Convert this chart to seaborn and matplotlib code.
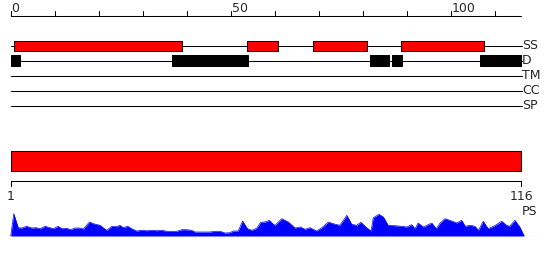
import matplotlib
matplotlib.use("Agg")
import matplotlib.pyplot as plt
import seaborn as sns
import pandas as pd

# ---------------- data ----------------
seq_len = 116
track_names = ["SS", "D", "TM", "CC", "SP"]
ss_starts = [0.8, 53.8, 68.8, 88.8]
ss_ends = [38.9, 60.8, 80.9, 107.6]
d_starts = [0.0, 36.7, 81.7, 86.6, 106.7]
d_ends = [2.0, 53.9, 86.0, 88.9, 116.0]
top_ticks = [0, 10, 20, 30, 40, 50, 60, 70, 80, 90, 100, 110]
top_tick_labels = [0, 50, 100]
bottom_tick_labels = ["1", "116"]
profile_label = "PS"
profile_pos = [0, 0.7, 1.7, 2.5, 3.6, 4.8, 5.8, 6.7, 7.8, 8.9, 9.7, 10.8, 11.6,
               12.7, 13.6, 14.6, 15.7, 16.5, 17.9, 18.8, 20.3, 21.8, 23.0, 24.1,
               24.8, 25.6, 26.6, 27.5, 28.6, 29.8, 30.9, 32.0, 33.2, 34.3, 35.5,
               36.6, 37.7, 38.9, 40.0, 41.1, 41.9, 43.0, 44.2, 45.3, 46.4, 47.6,
               48.7, 49.8, 50.6, 51.7, 52.7, 53.8, 54.8, 55.9, 56.8, 57.8, 58.8,
               59.7, 60.1, 61.6, 63.1, 64.6, 65.8, 66.9, 68.0, 69.5, 70.7, 72.2,
               73.3, 74.8, 76.4, 77.5, 78.6, 79.6, 80.9, 81.9, 82.4, 83.7, 84.7,
               85.8, 87.3, 88.9, 90.0, 91.1, 91.9, 92.6, 93.8, 95.7, 96.7, 97.6,
               98.7, 99.8, 101.4, 102.5, 103.3, 104.4, 105.5, 106.3, 107.4, 108.5,
               110.0, 111.6, 112.7, 113.4, 114.6, 115.7, 116.7]
profile_val = [0, 22.3, 8.3, 8.0, 9.7, 8.0, 8.3, 7.3, 9.7, 8.3, 7.3, 9.7, 7.3,
               7.7, 6.3, 8.0, 8.0, 7.0, 14.0, 12.3, 10.7, 5.7, 9.7, 9.3,
               10.7, 8.3, 9.7, 7.3, 5.0, 5.7, 5.3, 5.7, 5.3, 5.7, 4.7,
               4.7, 4.7, 6.3, 6.3, 5.7, 4.0, 4.0, 4.0, 4.0, 4.7, 4.7,
               3.0, 3.3, 5.0, 5.0, 15.0, 7.3, 5.7, 7.7, 13.7, 14.0, 15.7,
               11.7, 10.7, 17.3, 14.0, 8.0, 9.0, 6.7, 8.3, 5.0, 8.3, 14.0,
               12.3, 10.7, 20.7, 11.7, 10.7, 13.7, 8.3, 5.0, 18.3, 21.7, 19.0,
               10.7, 10.3, 9.7, 9.0, 11.3, 7.3, 13.0, 9.0, 13.0, 7.3, 13.0,
               17.3, 15.7, 13.0, 15.7, 9.7, 10.7, 9.7, 5.7, 14.7, 7.3,
               10.3, 14.7, 10.7, 9.7, 15.7, 9.0, 0]

# ---------------- layout ----------------
W, H = 550, 260
PX = 4.4          # pixels per residue
X0 = 10.7         # pixel of residue 0
xlim = (-X0 / PX, (W - X0) / PX)
sns.set_style("white")
plt.rcParams["font.family"] = ["DejaVu Sans"]
FS = 9
LW = 0.75

fig = plt.figure(figsize=(W / 100, H / 100), dpi=100)
ax = fig.add_axes([0, 0, 1, 1])
ax.set_xlim(*xlim)
ax.set_ylim(H, 0)
ax.axis("off")

# top ruler
ax.plot([0, seq_len], [15.5, 15.5], color="black", lw=LW)
for t in top_ticks:
    ax.plot([t, t], [10.5, 15.5], color="black", lw=LW)
for t in top_tick_labels:
    ax.text(t + 0.2, 12.5, str(t), ha="left", va="baseline", fontsize=FS)

# tracks
track_y = [45.5, 60.5, 75.5, 90.5, 105.5]
for name, y in zip(track_names, track_y):
    ax.plot([0, seq_len + 0.2], [y, y], color="black", lw=LW, zorder=1)
    ax.text(seq_len + 0.2, y, name, ha="left", va="center", fontsize=FS)

ax.barh(track_y[0], [e - s for s, e in zip(ss_starts, ss_ends)], left=ss_starts,
        height=10, color="#ff0000", edgecolor="black", linewidth=LW, zorder=2)
ax.barh(track_y[1], [e - s for s, e in zip(d_starts, d_ends)], left=d_starts,
        height=10.5, color="black", edgecolor="black", linewidth=LW, zorder=2)

# full-length bar
ax.barh(160.5, seq_len, left=0, height=20, color="#ff0000",
        edgecolor="black", linewidth=LW)

# bottom ruler
ax.plot([0, seq_len], [180.5, 180.5], color="black", lw=LW)
for t in [0, seq_len]:
    ax.plot([t, t], [180.5, 185.5], color="black", lw=LW)
ax.text(0, 200, bottom_tick_labels[0], ha="center", va="baseline", fontsize=FS)
ax.text(seq_len, 200, bottom_tick_labels[1], ha="center", va="baseline", fontsize=FS)
ax.text(seq_len + 0.1, 215, profile_label, ha="left", va="baseline", fontsize=FS)

# profile
pax = fig.add_axes([0, (H - 236) / H, 1, 30 / H])
pax.set_xlim(*xlim)
pax.set_ylim(0, 30)
pax.axis("off")
df = pd.DataFrame({"pos": profile_pos, "val": profile_val})
sns.lineplot(data=df, x="pos", y="val", ax=pax, color="#0000ff", lw=0.5)
pax.fill_between(df["pos"], 0, df["val"], color="#0000ff", lw=0)
pax.plot([0, (540 - X0) / PX], [0.3, 0.3], color="#0000ff", lw=LW)

fig.savefig("out.png", dpi=100)
